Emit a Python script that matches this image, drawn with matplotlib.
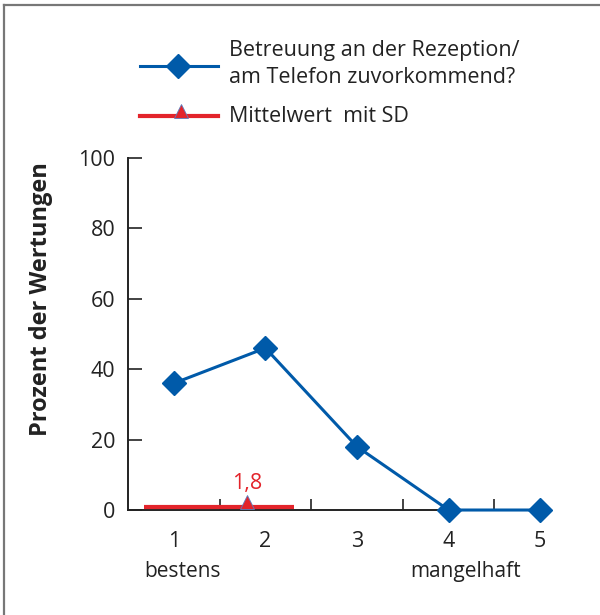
import matplotlib
matplotlib.use("Agg")
import matplotlib.pyplot as plt
from matplotlib.lines import Line2D

plt.rcParams["font.family"] = ["Open Sans", "DejaVu Sans"]

# rating scale 1 (bestens) .. 5 (mangelhaft)
grades = [1, 2, 3, 4, 5]
percent = [36, 46, 18, 0, 0]
mean_grade = 1.8
sd_span = [0.67, 2.31]
mean_label = "1,8"
series_label = "Betreuung an der Rezeption/\nam Telefon zuvorkommend?"
mean_series_label = "Mittelwert  mit SD"

BLUE = "#005aa9"
RED = "#e3242b"
INK = "#222222"
FS = 15.5

fig = plt.figure(figsize=(6.0, 6.15), dpi=100)
ax = fig.add_axes([0.2133, 0.1707, 0.7634, 0.5724])

ax.plot(grades, percent, color=BLUE, lw=2.2, marker="D", ms=12.5,
        mec=BLUE, mfc=BLUE, clip_on=False, zorder=4)

# mean ± SD band just above the baseline
ax.plot(sd_span, [0.9, 0.9], color=RED, lw=3, solid_capstyle="butt",
        clip_on=False, zorder=3)
ax.plot([mean_grade], [2.4], marker="^", ms=10, mfc=RED, mec="#5a7fc0",
        mew=0.6, clip_on=False, zorder=5)
ax.text(mean_grade, 4.6, mean_label, color=RED, fontsize=FS,
        ha="center", va="bottom")

ax.set_xlim(0.5, 5.5)
ax.set_ylim(0, 100)
ax.spines["top"].set_visible(False)
ax.spines["right"].set_visible(False)
ax.spines["bottom"].set_bounds(0.5, 5.0)
for s in ("left", "bottom"):
    ax.spines[s].set_linewidth(1.4)
    ax.spines[s].set_color(INK)

ax.set_yticks([0, 20, 40, 60, 80, 100])
ax.tick_params(axis="y", direction="in", length=10, width=1.2,
               labelsize=FS, pad=9, colors=INK)
ax.set_xticks([1.5, 2.5, 3.5, 4.5])
ax.set_xticklabels([])
ax.tick_params(axis="x", direction="in", length=8, width=1.2, colors=INK)

for g in grades:
    ax.text(g, -9, str(g), ha="center", va="center", fontsize=FS, color=INK)
ax.text(1.1, -17.5, "bestens", ha="center", va="center", fontsize=FS - 0.5,
        color=INK)
ax.text(4.18, -17.5, "mangelhaft", ha="center", va="center", fontsize=FS - 0.5,
        color=INK)

ax.set_ylabel("Prozent der Wertungen", fontsize=17, fontweight="bold",
              color=INK)
ax.yaxis.set_label_coords(-0.163, 0.60)

# legend, drawn by hand in figure pixels
W, H = 600, 615


def fx(px):
    return px / W


def fy(py):
    return 1 - py / H


fig.add_artist(Line2D([fx(140), fx(218)], [fy(66), fy(66)], color=BLUE, lw=2.2))
fig.add_artist(Line2D([fx(178)], [fy(66)], marker="D", ms=12.5, color=BLUE))
fig.text(fx(229), fy(64), series_label, fontsize=FS, color=INK,
         ha="left", va="center", linespacing=1.35)

fig.add_artist(Line2D([fx(140), fx(218)], [fy(116), fy(116)], color=RED, lw=3))
fig.add_artist(Line2D([fx(181)], [fy(111)], marker="^", ms=10, mfc=RED,
                      mec="#5a7fc0", mew=0.6, lw=0))
fig.text(fx(229), fy(116), mean_series_label, fontsize=FS, color=INK,
         ha="left", va="center")

# panel frame (top and left edges)
fig.add_artist(Line2D([fx(4), 1], [fy(5), fy(5)], color="#777777", lw=1.6))
fig.add_artist(Line2D([fx(4), fx(4)], [fy(5), 0], color="#777777", lw=1.6))

fig.savefig("out.png", dpi=100)
